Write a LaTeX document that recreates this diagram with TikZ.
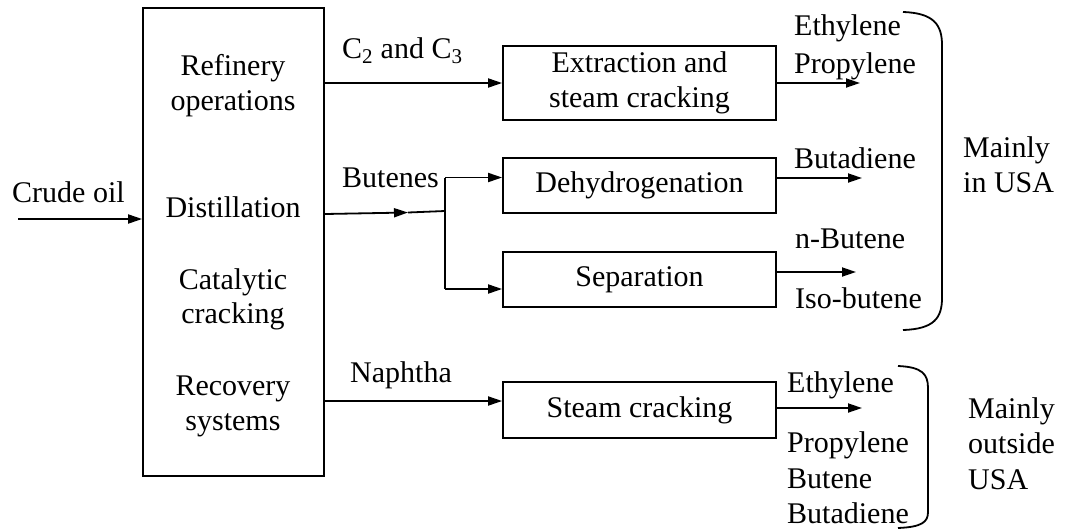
\documentclass[tikz,border=0pt]{standalone}
\usepackage{fontspec}
\setmainfont{Liberation Serif}
\usetikzlibrary{arrows.meta}
\begin{document}
\begin{tikzpicture}[x=1pt,y=-1pt,
  every node/.style={font=\fontsize{30}{35}\selectfont, inner sep=0pt},
  unit/.style={draw, line width=1.8pt, align=center},
  lbl/.style={anchor=base west},
  ctr/.style={anchor=base},
  flow/.style={line width=1.8pt, -{Triangle[length=14pt,width=9pt]}},
  pipe/.style={line width=1.8pt},
  brace/.style={line width=1.8pt}]
\useasboundingbox (0,0) rectangle (1079,531);

% refinery block and its operations
\node[unit, minimum width=181pt, minimum height=468pt] (plant) at (233.5,242) {};
\node[ctr] (t1) at (233,75) {Refinery};
\node[ctr] (t2) at (233,110) {operations};
\node[ctr] (t3) at (233,217) {Distillation};
\node[ctr] (t4) at (233,289) {Catalytic};
\node[ctr] (t5) at (233,323) {cracking};
\node[ctr] (t6) at (233,395) {Recovery};
\node[ctr] (t7) at (233,430) {systems};

% process units
\node[unit, minimum width=273pt, minimum height=74pt] (ext) at (639.5,83) {Extraction and\\steam cracking};
\node[unit, minimum width=273pt, minimum height=55pt] (dh) at (639.5,185.5) {Dehydrogenation};
\node[unit, minimum width=273pt, minimum height=55pt] (sep) at (639.5,279.5) {Separation};
\node[unit, minimum width=273pt, minimum height=56pt] (sc) at (639.5,410) {Steam cracking};

% feed
\node[lbl] (crude) at (12,202) {Crude oil};
\coordinate (feed) at (18,219);
\draw[flow] (feed) -- (feed -| plant.west);

% C2 and C3 stream
\node[lbl] (c23) at (342,58) {C\textsubscript{2} and C\textsubscript{3}};
\draw[flow] (plant.east |- ext.west) -- (ext.west);

% butenes stream
\node[lbl] (but) at (342,187) {Butenes};
\coordinate (bout) at (0,214);
\coordinate (bmid) at (408,212.5);
\coordinate (bj) at (445,211);
\coordinate (jt) at (445,177.5);
\coordinate (jb) at (445,289);
\draw[flow] (plant.east |- bout) -- (bmid);
\draw[pipe] (bmid) -- (bj);
\draw[pipe] (jt) -- (jb);
\draw[flow] (jt) -- (jt -| dh.west);
\draw[flow] (jb) -- (jb -| sep.west);

% naphtha stream
\node[lbl] (nap) at (350,382) {Naphtha};
\coordinate (napy) at (0,401);
\draw[flow] (plant.east |- napy) -- (napy -| sc.west);

% products
\coordinate (o1) at (860,83);
\coordinate (o2) at (862,178);
\coordinate (o3) at (856,272);
\coordinate (o4) at (862,408);
\draw[flow] (ext.east |- o1) -- (o1);
\draw[flow] (dh.east |- o2) -- (o2);
\draw[flow] (sep.east |- o3) -- (o3);
\draw[flow] (sc.east |- o4) -- (o4);

\node[lbl] (p1) at (794,35) {Ethylene};
\node[lbl] (p2) at (794,73) {Propylene};
\node[lbl] (p3) at (794,168) {Butadiene};
\node[lbl] (p4) at (795,248) {n-Butene};
\node[lbl] (p5) at (795,308) {Iso-butene};
\node[lbl] (q1) at (787,392) {Ethylene};
\node[lbl] (q2) at (787,452) {Propylene};
\node[lbl] (q3) at (787,488) {Butene};
\node[lbl] (q4) at (787,523) {Butadiene};

% regional brackets
\draw[brace] (903,12) .. controls (934,13) and (942,25) .. (942,45)
  -- (942,298) .. controls (942,318) and (934,329) .. (903,330);
\draw[brace] (898,366) .. controls (922,367) and (928,374) .. (928,388)
  -- (928,512) .. controls (928,522) and (922,527) .. (898,528);

\node[lbl] (r1) at (963,157) {Mainly};
\node[lbl] (r2) at (963,192) {in USA};
\node[lbl] (s1) at (968,418) {Mainly};
\node[lbl] (s2) at (968,453) {outside};
\node[lbl] (s3) at (968,489) {USA};
\end{tikzpicture}
\end{document}
